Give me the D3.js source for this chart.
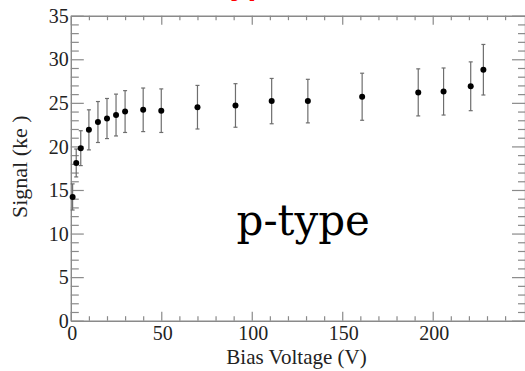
<!DOCTYPE html>
<html>
<head>
<meta charset="utf-8">
<script src="https://cdn.jsdelivr.net/npm/d3@7"></script>
<style>
  html, body { margin: 0; padding: 0; background: #fff; }
  svg { display: block; }
  .serif { font-family: "Liberation Serif", "DejaVu Serif", serif; }
</style>
</head>
<body>
<svg id="chart" width="525" height="371"></svg>
<script>
// Bias scan: collected signal vs. applied bias voltage
const biasVoltage = [1, 3, 5.5, 10, 15, 20, 25, 30, 40, 50, 70, 91, 111, 131, 161, 192, 206, 221, 228];
const signalKe    = [14.2, 18.1, 19.8, 21.9, 22.8, 23.2, 23.6, 24.0, 24.2, 24.1, 24.5, 24.7, 25.2, 25.2, 25.7, 26.2, 26.3, 26.9, 28.8];
const signalErr   = [1.5, 1.6, 2.0, 2.3, 2.35, 2.3, 2.4, 2.4, 2.5, 2.5, 2.5, 2.5, 2.6, 2.5, 2.7, 2.7, 2.7, 2.8, 2.9];
const xMajorTicks = [0, 50, 100, 150, 200];
const yMajorTicks = [0, 5, 10, 15, 20, 25, 30, 35];

const svg = d3.select("#chart");
const plotL = 70.8, plotR = 525, plotT = 15.7, plotB = 320.7;

const x = d3.scaleLinear().domain([0, 251]).range([plotL, plotR]);
const y = d3.scaleLinear().domain([0, 35]).range([plotB, plotT]);

const axisColor = "#8a8a8a";

const xMinor = d3.range(0, 251, 10).filter(v => v % 50 !== 0);
const yMinor = d3.range(0, 35.01, 1).filter(v => v % 5 !== 0);

function styleAxis(g) {
  g.attr("font-family", null);
  g.selectAll("path.domain").attr("stroke", axisColor).attr("stroke-width", 1.4);
  g.selectAll(".tick line").attr("stroke", axisColor).attr("stroke-width", 1.2);
}

// bottom axis with labels (ticks point inward)
const gx = svg.append("g").attr("transform", `translate(0,${plotB})`)
  .call(d3.axisBottom(x).tickValues(xMajorTicks).tickSizeInner(-9).tickSizeOuter(0).tickPadding(5));
styleAxis(gx);
gx.selectAll(".tick text").attr("class", "serif").attr("font-size", 20).attr("fill", "#222").attr("dx", 1);
svg.append("g").attr("transform", `translate(0,${plotB})`)
  .call(d3.axisBottom(x).tickValues(xMinor).tickSizeInner(-4.5).tickSizeOuter(0).tickFormat(""))
  .call(g => g.select("path.domain").remove()).call(styleAxis);

// top axis
const gxt = svg.append("g").attr("transform", `translate(0,${plotT})`)
  .call(d3.axisTop(x).tickValues(xMajorTicks).tickSizeInner(-9).tickSizeOuter(0).tickFormat(""));
styleAxis(gxt);
svg.append("g").attr("transform", `translate(0,${plotT})`)
  .call(d3.axisTop(x).tickValues(xMinor).tickSizeInner(-4.5).tickSizeOuter(0).tickFormat(""))
  .call(g => g.select("path.domain").remove()).call(styleAxis);

// left axis with labels
const gy = svg.append("g").attr("transform", `translate(${plotL},0)`)
  .call(d3.axisLeft(y).tickValues(yMajorTicks).tickSizeInner(-13).tickSizeOuter(0));
styleAxis(gy);
gy.selectAll(".tick text").attr("class", "serif").attr("font-size", 20).attr("fill", "#222")
  .attr("text-anchor", "end").attr("x", -2).attr("dy", "0.33em");
svg.append("g").attr("transform", `translate(${plotL},0)`)
  .call(d3.axisLeft(y).tickValues(yMinor).tickSizeInner(-8).tickSizeOuter(0).tickFormat(""))
  .call(g => g.select("path.domain").remove()).call(styleAxis);

// right axis ticks
const gyr = svg.append("g").attr("transform", `translate(${plotR},0)`)
  .call(d3.axisRight(y).tickValues(yMajorTicks).tickSizeInner(-13).tickSizeOuter(0).tickFormat(""));
styleAxis(gyr);
svg.append("g").attr("transform", `translate(${plotR},0)`)
  .call(d3.axisRight(y).tickValues(yMinor).tickSizeInner(-7).tickSizeOuter(0).tickFormat(""))
  .call(g => g.select("path.domain").remove()).call(styleAxis);

// error bars
const pts = biasVoltage.map((v, i) => ({ v, s: signalKe[i], e: signalErr[i] }));
const eb = svg.append("g").attr("stroke", "#6e6e6e").attr("stroke-width", 1.2);
eb.selectAll("line.bar").data(pts).join("line").attr("class", "bar")
  .attr("x1", d => x(d.v)).attr("x2", d => x(d.v))
  .attr("y1", d => y(d.s - d.e)).attr("y2", d => y(d.s + d.e));
eb.selectAll("line.capT").data(pts).join("line").attr("class", "capT")
  .attr("x1", d => x(d.v) - 2).attr("x2", d => x(d.v) + 2)
  .attr("y1", d => y(d.s + d.e)).attr("y2", d => y(d.s + d.e));
eb.selectAll("line.capB").data(pts).join("line").attr("class", "capB")
  .attr("x1", d => x(d.v) - 2).attr("x2", d => x(d.v) + 2)
  .attr("y1", d => y(d.s - d.e)).attr("y2", d => y(d.s - d.e));

// markers
svg.append("g").selectAll("circle").data(pts).join("circle")
  .attr("cx", d => x(d.v)).attr("cy", d => y(d.s)).attr("r", 3).attr("fill", "#000");

// axis titles
svg.append("text").attr("class", "serif").attr("x", 296.5).attr("y", 364).attr("text-anchor", "middle")
  .attr("font-size", 21).attr("fill", "#222").text("Bias Voltage (V)");
svg.append("text").attr("class", "serif").attr("transform", "translate(27,166.7) rotate(-90)").attr("text-anchor", "middle")
  .attr("font-size", 22).attr("fill", "#222").text("Signal (ke  )");

// in-plot label
svg.append("text").attr("x", 236.5).attr("y", 235)
  .attr("font-family", "DejaVu Serif, serif").attr("font-size", 42).attr("fill", "#000").text("p-type");

// title, mostly above the visible area
svg.append("text").attr("x", 187).attr("y", -6)
  .attr("font-family", "Liberation Sans, Arial, sans-serif").attr("font-weight", "bold")
  .attr("font-size", 32).attr("fill", "#ff0000").text("P-type");
</script>
</body>
</html>
